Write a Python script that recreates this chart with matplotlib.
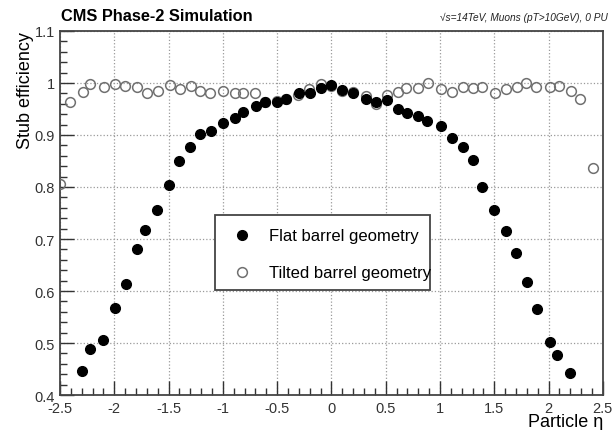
import numpy as np
import matplotlib
matplotlib.use("Agg")
import matplotlib.pyplot as plt
from matplotlib.patches import Rectangle
from matplotlib.ticker import MultipleLocator, FormatStrFormatter

plt.rcParams['font.family'] = ['Liberation Sans', 'DejaVu Sans']

# flat barrel geometry (filled markers)
flat_eta = [-2.30, -2.22, -2.10, -1.99, -1.89, -1.79, -1.72, -1.61, -1.50, -1.40,
            -1.30, -1.21, -1.11, -1.00, -0.89, -0.81, -0.69, -0.61, -0.50, -0.42,
            -0.30, -0.20, -0.10, 0.00, 0.10, 0.20, 0.32, 0.41, 0.51, 0.61,
            0.70, 0.80, 0.88, 1.01, 1.11, 1.21, 1.30, 1.39, 1.50, 1.61,
            1.70, 1.80, 1.89, 2.01, 2.08, 2.20]
flat_eff = [0.446, 0.488, 0.506, 0.567, 0.613, 0.681, 0.718, 0.756, 0.804, 0.849,
            0.876, 0.901, 0.908, 0.923, 0.932, 0.945, 0.955, 0.963, 0.964, 0.969,
            0.981, 0.980, 0.991, 0.996, 0.987, 0.981, 0.969, 0.963, 0.968, 0.949,
            0.942, 0.936, 0.926, 0.917, 0.895, 0.876, 0.851, 0.800, 0.756, 0.716,
            0.674, 0.617, 0.565, 0.503, 0.478, 0.442]

# tilted barrel geometry (open markers)
tilt_eta = [-2.50, -2.41, -2.29, -2.22, -2.09, -1.99, -1.90, -1.79, -1.70, -1.60,
            -1.49, -1.39, -1.29, -1.21, -1.12, -1.00, -0.89, -0.81, -0.70, -0.61,
            -0.50, -0.42, -0.31, -0.21, -0.10, 0.00, 0.10, 0.20, 0.32, 0.41,
            0.51, 0.61, 0.69, 0.80, 0.89, 1.01, 1.11, 1.21, 1.30, 1.39,
            1.51, 1.61, 1.71, 1.79, 1.88, 2.01, 2.10, 2.21, 2.29, 2.41]
tilt_eff = [0.806, 0.963, 0.983, 0.997, 0.992, 0.997, 0.995, 0.993, 0.980, 0.984,
            0.996, 0.988, 0.995, 0.985, 0.980, 0.984, 0.981, 0.980, 0.980, 0.964,
            0.965, 0.970, 0.976, 0.989, 0.998, 0.995, 0.984, 0.982, 0.975, 0.960,
            0.977, 0.983, 0.990, 0.990, 1.000, 0.988, 0.983, 0.992, 0.990, 0.992,
            0.980, 0.988, 0.992, 1.000, 0.992, 0.992, 0.995, 0.985, 0.969, 0.837]

fig = plt.figure(figsize=(6.12, 4.31), dpi=100)
ax = fig.add_axes([0.098, 0.081, 0.887, 0.845])

ax.plot(tilt_eta, tilt_eff, 'o', ms=7, mfc='none', mec='#707070', mew=1.1,
        label='Tilted barrel geometry', zorder=3)
ax.plot(flat_eta, flat_eff, 'o', ms=7, mfc='black', mec='black',
        label='Flat barrel geometry', zorder=4)

ax.set_xlim(-2.5, 2.5)
ax.set_ylim(0.4, 1.1)
ax.xaxis.set_major_locator(MultipleLocator(0.5))
ax.xaxis.set_minor_locator(MultipleLocator(0.1))
ax.yaxis.set_major_locator(MultipleLocator(0.1))
ax.yaxis.set_minor_locator(MultipleLocator(0.02))
ax.xaxis.set_major_formatter(FormatStrFormatter('%g'))
ax.yaxis.set_major_formatter(FormatStrFormatter('%g'))
ax.tick_params(which='both', direction='in', labelsize=10.5, colors='#333333')
ax.tick_params(which='major', length=10, width=1.0)
ax.tick_params(which='minor', length=5, width=1.0)
ax.tick_params(axis='x', pad=4)
ax.grid(True, which='major', ls=':', color='#9a9a9a', lw=0.9)
for s in ax.spines.values():
    s.set_color('#444444')
    s.set_linewidth(1.3)

# legend box drawn separately, text is allowed to run up to its edge
ax.add_patch(Rectangle((0.2855, 0.2885), 0.396, 0.206, transform=ax.transAxes,
                       facecolor='white', edgecolor='#444444', lw=1.3,
                       zorder=5))
handles, labels = ax.get_legend_handles_labels()
leg = ax.legend(handles[::-1], labels[::-1], loc='upper left',
                bbox_to_anchor=(0.3168, 0.4575), fontsize=12, frameon=False,
                labelspacing=1.32, borderpad=0, handletextpad=1.0,
                handlelength=1.2, borderaxespad=0)
leg.set_zorder(6)

fig.text(0.099, 0.962, 'CMS Phase-2 Simulation', fontsize=11.8,
         fontweight='bold', ha='left', va='center')
fig.text(0.994, 0.958, '\u221As=14TeV, Muons (pT>10GeV), 0 PU', fontsize=7.3,
         style='italic', ha='right', va='center', color='#222222')
fig.text(0.042, 0.926, 'Stub efficiency', fontsize=13, rotation=90,
         ha='center', va='top')
fig.text(0.985, 0.019, 'Particle \u03b7', fontsize=13, ha='right',
         va='center')

fig.savefig('out.png', dpi=100)
